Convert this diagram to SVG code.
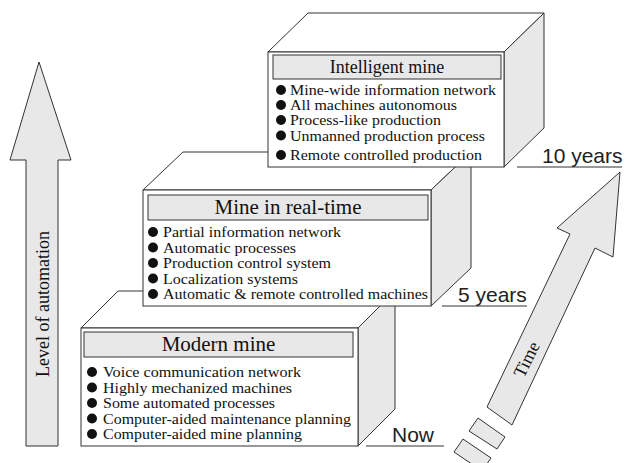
<svg xmlns="http://www.w3.org/2000/svg" width="630" height="463" viewBox="0 0 630 463">
<style>
.face{fill:#ffffff;stroke:#333;stroke-width:1}
.side{fill:#e8e8e8;stroke:#333;stroke-width:1}
.hdr{fill:#e8e8e8;stroke:#333;stroke-width:1}
.ttl{font-family:"Liberation Serif","Times New Roman",serif;fill:#111;text-anchor:middle}
.bl{font-family:"Liberation Serif","Times New Roman",serif;font-size:15px;fill:#111}
.dot{fill:#111}
.yr{font-family:"Liberation Sans",Arial,sans-serif;font-size:21px;fill:#222}
.ul{stroke:#333;stroke-width:1;fill:none}
.arr{fill:#e8e8e8;stroke:#333;stroke-width:1}
.al{font-family:"Liberation Serif","Times New Roman",serif;font-size:18px;fill:#111;text-anchor:middle}
</style>

<g id="connectors">
  <g id="arrow-automation">
    <polygon class="arr" points="39,62 71,160 58,160 58,446 26,446 26,160 10,160"/>
    <text class="al" transform="translate(48.5,304) rotate(-90)">Level of automation</text>
  </g>
  <g id="arrow-time">
    <polygon class="arr" points="620,172 613,257 595,248 512,425 487,407 570,234 557,228"/>
    <polygon class="arr" points="478,418 505,437 497,449 469,431"/>
    <polygon class="arr" points="463,439 491,458 482,471 454,452"/>
    <text class="al" transform="translate(532,362) rotate(-64)">Time</text>
  </g>
</g>

<g id="box-modern">
  <polygon class="face" points="81,328 118,291 395,291 358,328"/>
  <polygon class="side" points="358,328 395,291 395,409 358,446"/>
  <rect class="face" x="81" y="328" width="277" height="118"/>
  <rect class="hdr" x="84" y="332" width="269" height="25"/>
  <text class="ttl" x="218.5" y="351" font-size="21">Modern mine</text>
  <circle class="dot" cx="92" cy="372" r="5"/><text class="bl" x="103" y="377" textLength="198" lengthAdjust="spacingAndGlyphs">Voice communication network</text>
  <circle class="dot" cx="92" cy="387.5" r="5"/><text class="bl" x="103" y="392.5" textLength="189" lengthAdjust="spacingAndGlyphs">Highly mechanized machines</text>
  <circle class="dot" cx="92" cy="403" r="5"/><text class="bl" x="103" y="408" textLength="172" lengthAdjust="spacingAndGlyphs">Some automated processes</text>
  <circle class="dot" cx="92" cy="418.5" r="5"/><text class="bl" x="103" y="423.5" textLength="248" lengthAdjust="spacingAndGlyphs">Computer-aided maintenance planning</text>
  <circle class="dot" cx="92" cy="434" r="5"/><text class="bl" x="103" y="439" textLength="199" lengthAdjust="spacingAndGlyphs">Computer-aided mine planning</text>
</g>

<g id="box-realtime">
  <polygon class="face" points="143,190 183,152 471,152 431,190"/>
  <polygon class="side" points="431,190 471,152 471,268 431,306"/>
  <rect class="face" x="143" y="190" width="288" height="116"/>
  <rect class="hdr" x="148" y="195" width="280" height="25"/>
  <text class="ttl" x="288" y="214" font-size="21">Mine in real-time</text>
  <circle class="dot" cx="153" cy="232" r="5"/><text class="bl" x="163" y="237" textLength="178" lengthAdjust="spacingAndGlyphs">Partial information network</text>
  <circle class="dot" cx="153" cy="247.5" r="5"/><text class="bl" x="163" y="252.5" textLength="133" lengthAdjust="spacingAndGlyphs">Automatic processes</text>
  <circle class="dot" cx="153" cy="263" r="5"/><text class="bl" x="163" y="268" textLength="168" lengthAdjust="spacingAndGlyphs">Production control system</text>
  <circle class="dot" cx="153" cy="278.5" r="5"/><text class="bl" x="163" y="283.5" textLength="135" lengthAdjust="spacingAndGlyphs">Localization systems</text>
  <circle class="dot" cx="153" cy="294" r="5"/><text class="bl" x="163" y="299" textLength="265" lengthAdjust="spacingAndGlyphs">Automatic &amp; remote controlled machines</text>
</g>

<g id="box-intelligent">
  <polygon class="face" points="268,52 308,13 544,13 504,52"/>
  <polygon class="side" points="504,52 544,13 544,128 504,167"/>
  <rect class="face" x="268" y="52" width="236" height="115"/>
  <rect class="hdr" x="273" y="55" width="228" height="24"/>
  <text class="ttl" x="387" y="73" font-size="18">Intelligent mine</text>
  <circle class="dot" cx="281" cy="90" r="5"/><text class="bl" x="290" y="95" textLength="206" lengthAdjust="spacingAndGlyphs">Mine-wide information network</text>
  <circle class="dot" cx="281" cy="105" r="5"/><text class="bl" x="290" y="110" textLength="167" lengthAdjust="spacingAndGlyphs">All machines autonomous</text>
  <circle class="dot" cx="281" cy="120" r="5"/><text class="bl" x="290" y="125" textLength="151" lengthAdjust="spacingAndGlyphs">Process-like production</text>
  <circle class="dot" cx="281" cy="135.5" r="5"/><text class="bl" x="290" y="140.5" textLength="195" lengthAdjust="spacingAndGlyphs">Unmanned production process</text>
  <circle class="dot" cx="281" cy="155" r="5"/><text class="bl" x="290" y="160" textLength="192" lengthAdjust="spacingAndGlyphs">Remote controlled production</text>
</g>

<g id="label-now">
  <line class="ul" x1="366" y1="446" x2="444" y2="446"/>
  <text class="yr" x="392" y="441.5">Now</text>
</g>
<g id="label-5years">
  <line class="ul" x1="442" y1="306" x2="527" y2="306"/>
  <text class="yr" x="458" y="301.5">5 years</text>
</g>
<g id="label-10years">
  <line class="ul" x1="517" y1="167" x2="622" y2="167"/>
  <text class="yr" x="542" y="162.5">10 years</text>
</g>
</svg>
